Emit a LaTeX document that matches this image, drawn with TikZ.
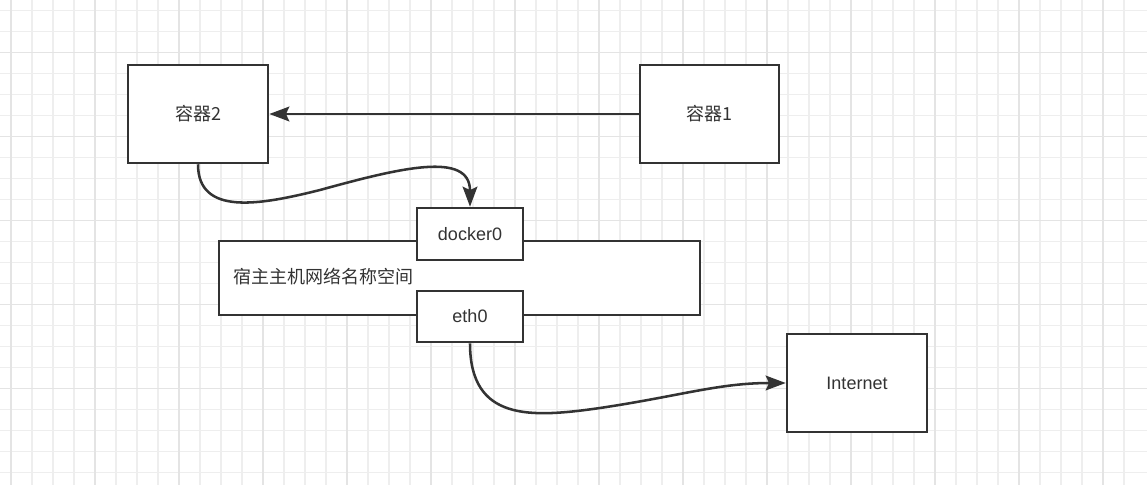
\documentclass[tikz,border=0pt]{standalone}
\usepackage{fontspec}
\setmainfont{Liberation Sans}
\newfontfamily\cjk{Noto Sans CJK SC}
\usetikzlibrary{arrows.meta}
\definecolor{ink}{HTML}{333333}
\definecolor{txt}{HTML}{333333}
\definecolor{gminor}{HTML}{EEEEEE}
\definecolor{gmajor}{HTML}{E4E4E4}
\tikzset{
  box/.style={draw=ink, line width=1.9pt, fill=white, text=txt, font=\fontsize{13.5pt}{16pt}\selectfont, inner sep=0pt},
  conn/.style={draw=ink, line width=1.9pt, -{Stealth[length=15pt,width=11pt,inset=2.5pt]}},
  lbl/.style={text=txt, font=\fontsize{13.5pt}{16pt}\selectfont\cjk, inner sep=0pt}
}
\begin{document}
\begin{tikzpicture}[x=0.75pt,y=-0.75pt]
\useasboundingbox (0,0) rectangle (1147,485);
\fill[white] (0,0) rectangle (1147,485);
% grid
\foreach \i in {0,...,54} {
  \draw[gminor, line width=0.8pt] ({11+21*\i-21},0) -- ({11+21*\i-21},485);
}
\foreach \i in {0,...,23} {
  \draw[gminor, line width=0.8pt] (0,{10.7+21*\i}) -- (1147,{10.7+21*\i});
}
\foreach \i in {0,...,13} {
  \draw[gmajor, line width=0.9pt] ({11+84*\i},0) -- ({11+84*\i},485);
}
\foreach \i in {0,...,5} {
  \draw[gmajor, line width=0.9pt] (0,{52.7+84*\i-84}) -- (1147,{52.7+84*\i-84});
}
% boxes
\node[box, minimum width=105pt, minimum height=73.5pt] (c2) at (198,114) {\cjk 容器2};
\node[box, minimum width=104.25pt, minimum height=73.5pt] (c1) at (709.5,114) {\cjk 容器1};
\node[box, minimum width=360.75pt, minimum height=55.5pt] (host) at (459.5,278) {};
\node[lbl, anchor=west] (hostlbl) at (233,277) {宿主主机网络名称空间};
\node[box, minimum width=79.5pt, minimum height=39pt] (d0) at (470,234) {docker0};
\node[box, minimum width=79.5pt, minimum height=38.25pt] (e0) at (470,316.5) {eth0};
\node[box, minimum width=105pt, minimum height=73.5pt] (inet) at (857,383) {Internet};
% connectors
\draw[conn] (c1.west) -- (c2.east);
\coordinate (m1) at (320,190);
\draw[conn] (c2.south) .. controls +(0,52) and +(-60,15) .. (m1) .. controls +(80,-22) and +(0,-56) .. (d0.north);
\coordinate (m2) at (600,408);
\draw[conn] (e0.south) .. controls +(0,78) and +(-70,10) .. (m2) .. controls +(80,-12) and +(-67,0) .. (inet.west);
\end{tikzpicture}
\end{document}
